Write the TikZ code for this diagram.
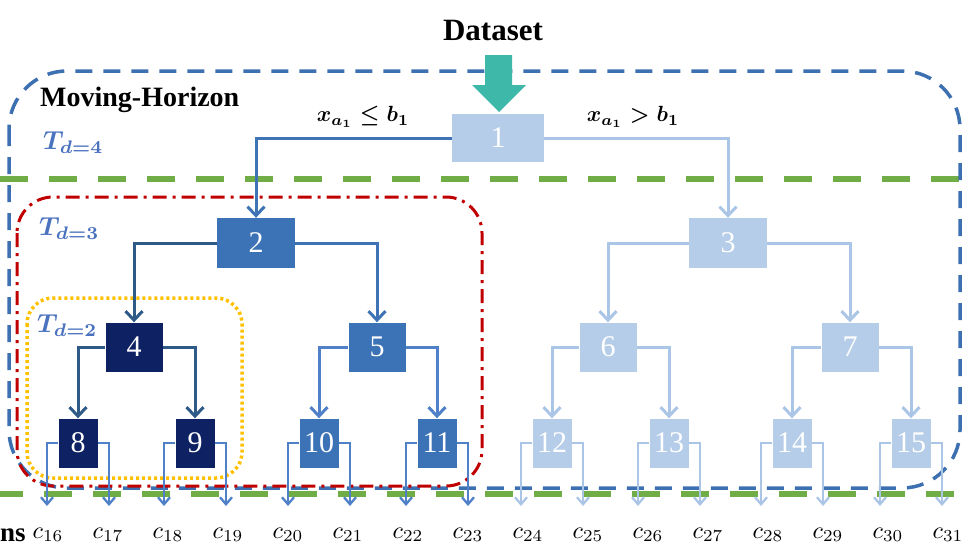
\documentclass[tikz,border=0pt]{standalone}
\usepackage{fontspec}
\setmainfont{Liberation Serif}
\usetikzlibrary{arrows.meta}
\definecolor{lightb}{HTML}{B5CDE8}
\definecolor{lightl}{HTML}{AAC5E6}
\definecolor{midb}{HTML}{3C72B6}
\definecolor{navyb}{HTML}{0E2263}
\definecolor{edgedark}{HTML}{2E5A88}
\definecolor{edgemid}{HTML}{3E74B6}
\definecolor{leafl}{HTML}{5080C8}
\definecolor{tblue}{HTML}{4A72BE}
\definecolor{gdash}{HTML}{70AD47}
\definecolor{bdash}{HTML}{3D70B0}
\definecolor{rdash}{HTML}{C00000}
\definecolor{ydot}{HTML}{FFC000}
\definecolor{tealc}{HTML}{3DB8A9}
\newcommand{\enlargemath}[2]{\scalebox{#1}{#2}}
\begin{document}
\begin{tikzpicture}[x=1pt,y=-1pt,
  nb/.style={rectangle, inner sep=0pt, minimum height=49pt, text=white,
    font=\fontsize{30}{30}\selectfont},
  lvl1/.style={nb, minimum width=78pt, minimum height=50pt},
  lvl2/.style={nb, minimum width=57pt},
  leafbox/.style={nb, minimum width=39pt},
  edge/.style={line width=3pt, -{Straight Barb[length=9pt,width=17pt]}},
  leafedge/.style={line width=2.3pt, -{Straight Barb[length=7pt,width=12pt]}},
  clabel/.style={inner sep=0pt},
  tlabel/.style={text=tblue, font=\boldmath, inner sep=0pt, anchor=west},
  mlabel/.style={font=\boldmath, inner sep=0pt},
  greenline/.style={gdash, line width=6.5pt, dash pattern=on 28pt off 21pt},
  bluebox/.style={bdash, line width=3.5pt, dash pattern=on 17pt off 11pt, rounded corners=58pt},
  redbox/.style={rdash, line width=3pt, dash pattern=on 14pt off 6pt on 3pt off 6pt, rounded corners=36pt},
  yellowbox/.style={ydot, line width=3.5pt, dash pattern=on 3pt off 3pt, rounded corners=26pt}
]
\useasboundingbox (0,0) rectangle (973,555);

% green horizon lines
\draw[greenline] (0,179) -- (973,179);
\draw[greenline, dash phase=5pt] (0,494) -- (973,494);

% frames
\draw[bluebox] (9,71) rectangle (960,488);
\draw[redbox] (17,197) rectangle (482,486);
\draw[yellowbox] (27,298) rectangle (242,478);

% titles
\node[font=\fontsize{31}{31}\selectfont\bfseries, inner sep=0pt] (ds) at (493,30) {Dataset};
\node[font=\fontsize{28}{28}\selectfont\bfseries, inner sep=0pt, anchor=west] (mh) at (40,100) {Moving-Horizon};
\node[font=\fontsize{27}{27}\selectfont\bfseries, inner sep=0pt, anchor=west] (ns) at (0,535) {ns};

\node[tlabel] (t4) at (43,143) {\enlargemath{2.6}{$T_{d=4}$}};
\node[tlabel] (t3) at (39,229) {\enlargemath{2.6}{$T_{d=3}$}};
\node[tlabel] (t2) at (37,326) {\enlargemath{2.6}{$T_{d=2}$}};

\node[mlabel] (cl) at (363,117) {\enlargemath{2.2}{$x_{a_1} \le b_1$}};
\node[mlabel] (cr) at (633,117) {\enlargemath{2.2}{$x_{a_1} > b_1$}};

% nodes
\node[nb, fill=lightb, minimum width=92pt, minimum height=48pt] (n1) at (498,138) {1};
\node[lvl1, fill=midb] (n2) at (256,243) {2};
\node[lvl1, fill=lightb] (n3) at (728,243) {3};
\node[lvl2, fill=navyb] (n4) at (134,347) {4};
\node[lvl2, fill=midb] (n5) at (377,347) {5};
\node[lvl2, fill=lightb] (n6) at (608,347) {6};
\node[lvl2, fill=lightb] (n7) at (850,347) {7};
\node[leafbox, fill=navyb] (n8) at (78,443) {8};
\node[leafbox, fill=navyb] (n9) at (195,443) {9};
\node[leafbox, fill=midb] (n10) at (319,443) {10};
\node[leafbox, fill=midb] (n11) at (437,443) {11};
\node[leafbox, fill=lightb] (n12) at (552,443) {12};
\node[leafbox, fill=lightb] (n13) at (669,443) {13};
\node[leafbox, fill=lightb] (n14) at (792,443) {14};
\node[leafbox, fill=lightb] (n15) at (911,443) {15};

% dataset arrow
\fill[tealc] (485,55) -- (512,55) -- (512,85) -- (526,85) -- (499,112) -- (472,85) -- (485,85) -- cycle;

% tree edges
\draw[edge, edgemid] (n1.west) -| (n2.north);
\draw[edge, lightl] (n1.east) -| (n3.north);
\draw[edge, edgedark] (n2.west) -| (n4.north);
\draw[edge, edgemid] (n2.east) -| (n5.north);
\draw[edge, lightl] (n3.west) -| (n6.north);
\draw[edge, lightl] (n3.east) -| (n7.north);
\draw[edge, edgedark] (n4.west) -| (n8.north);
\draw[edge, edgedark] (n4.east) -| (n9.north);
\draw[edge, leafl] (n5.west) -| (n10.north);
\draw[edge, leafl] (n5.east) -| (n11.north);
\draw[edge, lightl] (n6.west) -| (n12.north);
\draw[edge, lightl] (n6.east) -| (n13.north);
\draw[edge, lightl] (n7.west) -| (n14.north);
\draw[edge, lightl] (n7.east) -| (n15.north);

% leaf outputs
\foreach \n/\a/\b/\col in {8/16/17/leafl, 9/18/19/leafl, 10/20/21/leafl, 11/22/23/leafl,
                           12/24/25/lightl, 13/26/27/lightl, 14/28/29/lightl, 15/30/31/lightl}{
  \coordinate (o\a) at ([xshift=-31pt]n\n.center |- 0,506);
  \coordinate (o\b) at ([xshift=31pt]n\n.center |- 0,506);
  \draw[leafedge, \col] (n\n.west) -| (o\a);
  \draw[leafedge, \col] (n\n.east) -| (o\b);
}

% class labels
\foreach \i [count=\k from 0] in {16,...,31}{
  \node[clabel] (c\i) at ({48+60*\k},535) {\enlargemath{2.4}{$c_{\i}$}};
}
\end{tikzpicture}
\end{document}
